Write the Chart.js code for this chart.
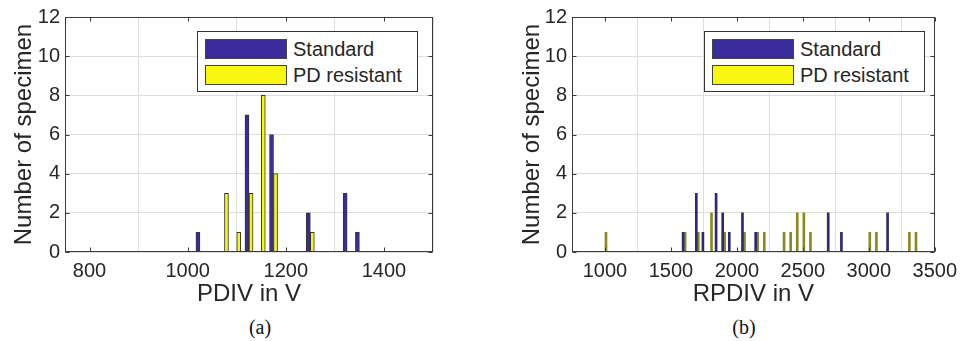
<!DOCTYPE html>
<html>
<head>
<meta charset="utf-8">
<script src="https://cdn.jsdelivr.net/npm/chart.js@4.4.1/dist/chart.umd.min.js"></script>
<style>
  body { margin: 0; background: #fff; }
  #wrap { position: relative; width: 964px; height: 341px; overflow: hidden; }
  canvas { position: absolute; top: 0; }
  .legend { position: absolute; background: #fff; border: 1px solid #333; box-sizing: border-box;
            font-family: 'Liberation Sans', Arial, sans-serif; font-size: 20px; color: #262626; }
  .sw { position: absolute; border: 1px solid #444; box-sizing: border-box; }
  .lt { position: absolute; line-height: 20px; white-space: nowrap; }
  .cap { position: absolute; font-family: 'Liberation Serif', 'Times New Roman', serif; font-size: 20px;
         color: #111; top: 316px; width: 60px; text-align: center; }
</style>
</head>
<body>
<div id="wrap">
  <canvas id="pdiv" width="482" height="310" style="left:0"></canvas>
  <canvas id="rpdiv" width="482" height="310" style="left:482px"></canvas>

  <div class="legend" style="left:197px;top:31px;width:221px;height:61px">
    <div class="sw" style="left:7px;top:7px;width:82px;height:20px;background:#3a2c9c"></div>
    <div class="sw" style="left:7px;top:33px;width:82px;height:20px;background:#f7f70f"></div>
    <div class="lt" style="left:95px;top:7px">Standard</div>
    <div class="lt" style="left:95px;top:33px">PD resistant</div>
  </div>
  <div class="legend" style="left:704px;top:31px;width:221px;height:61px">
    <div class="sw" style="left:7px;top:7px;width:82px;height:20px;background:#3a2c9c"></div>
    <div class="sw" style="left:7px;top:33px;width:82px;height:20px;background:#f7f70f"></div>
    <div class="lt" style="left:95px;top:7px">Standard</div>
    <div class="lt" style="left:95px;top:33px">PD resistant</div>
  </div>

  <div class="cap" style="left:230px">(a)</div>
  <div class="cap" style="left:714px">(b)</div>
</div>
<script>
// histogram bin centres (V) and counts
const pdivStdX = [1025, 1125, 1175, 1250, 1325, 1350];
const pdivStdN = [1, 7, 6, 2, 3, 1];
const pdivResX = [1075, 1100, 1125, 1150, 1175, 1250];
const pdivResN = [3, 1, 3, 8, 4, 1];
const pdivTicks = [800, 1000, 1200, 1400];

const rpdivStdX = [1600, 1700, 1750, 1850, 1900, 1950, 2050, 2150, 2700, 2800, 3150];
const rpdivStdN = [1, 3, 1, 3, 2, 1, 2, 1, 2, 1, 2];
const rpdivResX = [1000, 1600, 1700, 1800, 1900, 2050, 2150, 2200, 2350, 2400, 2450, 2500, 2550, 3000, 3050, 3300, 3350];
const rpdivResN = [1, 1, 1, 2, 1, 1, 1, 1, 1, 1, 2, 2, 1, 1, 1, 1, 1];
const rpdivTicks = [1000, 1500, 2000, 2500, 3000, 3500];

const seriesNames = ['Standard', 'PD resistant'];
const countTicks = [0, 2, 4, 6, 8, 10, 12];

const BLUE = '#3a2c9c';
const YELLOW = '#f7f70f';
const TXT = '#262626';
const FONT = "'Liberation Sans', Arial, sans-serif";

// matlab-ish box with inward tick marks
const boxPlugin = {
  id: 'box',
  afterDatasetsDraw(chart) {
    const { ctx, chartArea: a, scales: { x, y } } = chart;
    const L = Math.round(a.left) + 0.5, R = Math.round(a.right) - 0.5;
    const T = Math.round(a.top) + 0.5, B = Math.round(a.bottom) - 0.5;
    ctx.save();
    ctx.strokeStyle = '#3c3c3c';
    ctx.lineWidth = 1;
    ctx.beginPath();
    x.ticks.forEach(t => {
      const px = Math.round(x.getPixelForValue(t.value)) + 0.5;
      ctx.moveTo(px, B); ctx.lineTo(px, B - 4);
      ctx.moveTo(px, T); ctx.lineTo(px, T + 4);
    });
    y.ticks.forEach(t => {
      const py = Math.round(y.getPixelForValue(t.value)) + 0.5;
      ctx.moveTo(L, py); ctx.lineTo(L + 4, py);
      ctx.moveTo(R, py); ctx.lineTo(R - 4, py);
    });
    ctx.stroke();
    ctx.strokeRect(L, T, R - L, B - T);
    ctx.restore();
  }
};

function toPoints(xs, ns) {
  return xs.map((v, i) => ({ x: v, y: ns[i] }));
}

function makeHist(id, o) {
  return new Chart(document.getElementById(id), {
    type: 'bar',
    data: {
      datasets: [
        { label: seriesNames[0], data: toPoints(o.stdX, o.stdN), backgroundColor: o.colors[0],
          borderColor: '#333', borderWidth: o.bw, barThickness: o.thick },
        { label: seriesNames[1], data: toPoints(o.resX, o.resN), backgroundColor: o.colors[1],
          borderColor: '#333', borderWidth: o.bw, barThickness: o.thick }
      ]
    },
    options: {
      responsive: false,
      animation: false,
      layout: { padding: { top: 16, right: o.padRight, left: 0, bottom: 0 } },
      plugins: { legend: { display: false }, tooltip: { enabled: false } },
      scales: {
        x: {
          type: 'linear',
          min: o.min, max: o.max,
          offset: false,
          grid: { color: '#dedede', drawTicks: false },
          border: { display: false },
          afterBuildTicks: s => { s.ticks = o.ticks.map(v => ({ value: v })); },
          ticks: { padding: 7, color: TXT, callback: v => String(v),
                   font: { family: FONT, size: 20 } },
          title: { display: true, text: o.title, color: TXT, padding: { top: 0, bottom: 1 },
                   font: { family: FONT, size: 24 } },
          afterFit: s => { s.height = 58; }
        },
        y: {
          min: 0, max: 12,
          grid: { color: '#dedede', drawTicks: false },
          border: { display: false },
          afterBuildTicks: s => { s.ticks = countTicks.map(v => ({ value: v })); },
          ticks: { padding: 5, color: TXT, callback: v => String(v), font: { family: FONT, size: 20 } },
          title: { display: true, text: 'Number of specimen', color: TXT, padding: { top: o.yTitlePad },
                   font: { family: FONT, size: 24 } },
          afterFit: s => { s.width = o.yWidth; }
        }
      }
    },
    plugins: [boxPlugin]
  });
}

makeHist('pdiv', {
  stdX: pdivStdX, stdN: pdivStdN, resX: pdivResX, resN: pdivResN,
  min: 750, max: 1500, ticks: pdivTicks, title: 'PDIV in V',
  colors: [BLUE, YELLOW], thick: 4, bw: 1, padRight: 49, yWidth: 65, yTitlePad: 10
});

// thin bars in (b) come out darker in the original, so use the blended tones
makeHist('rpdiv', {
  stdX: rpdivStdX, stdN: rpdivStdN, resX: rpdivResX, resN: rpdivResN,
  min: 750, max: 3500, ticks: rpdivTicks, title: 'RPDIV in V',
  colors: ['#2e2a72', '#8a8a22'], thick: 2, bw: 0, padRight: 24, yWidth: 90, yTitlePad: 36
});
</script>
</body>
</html>
